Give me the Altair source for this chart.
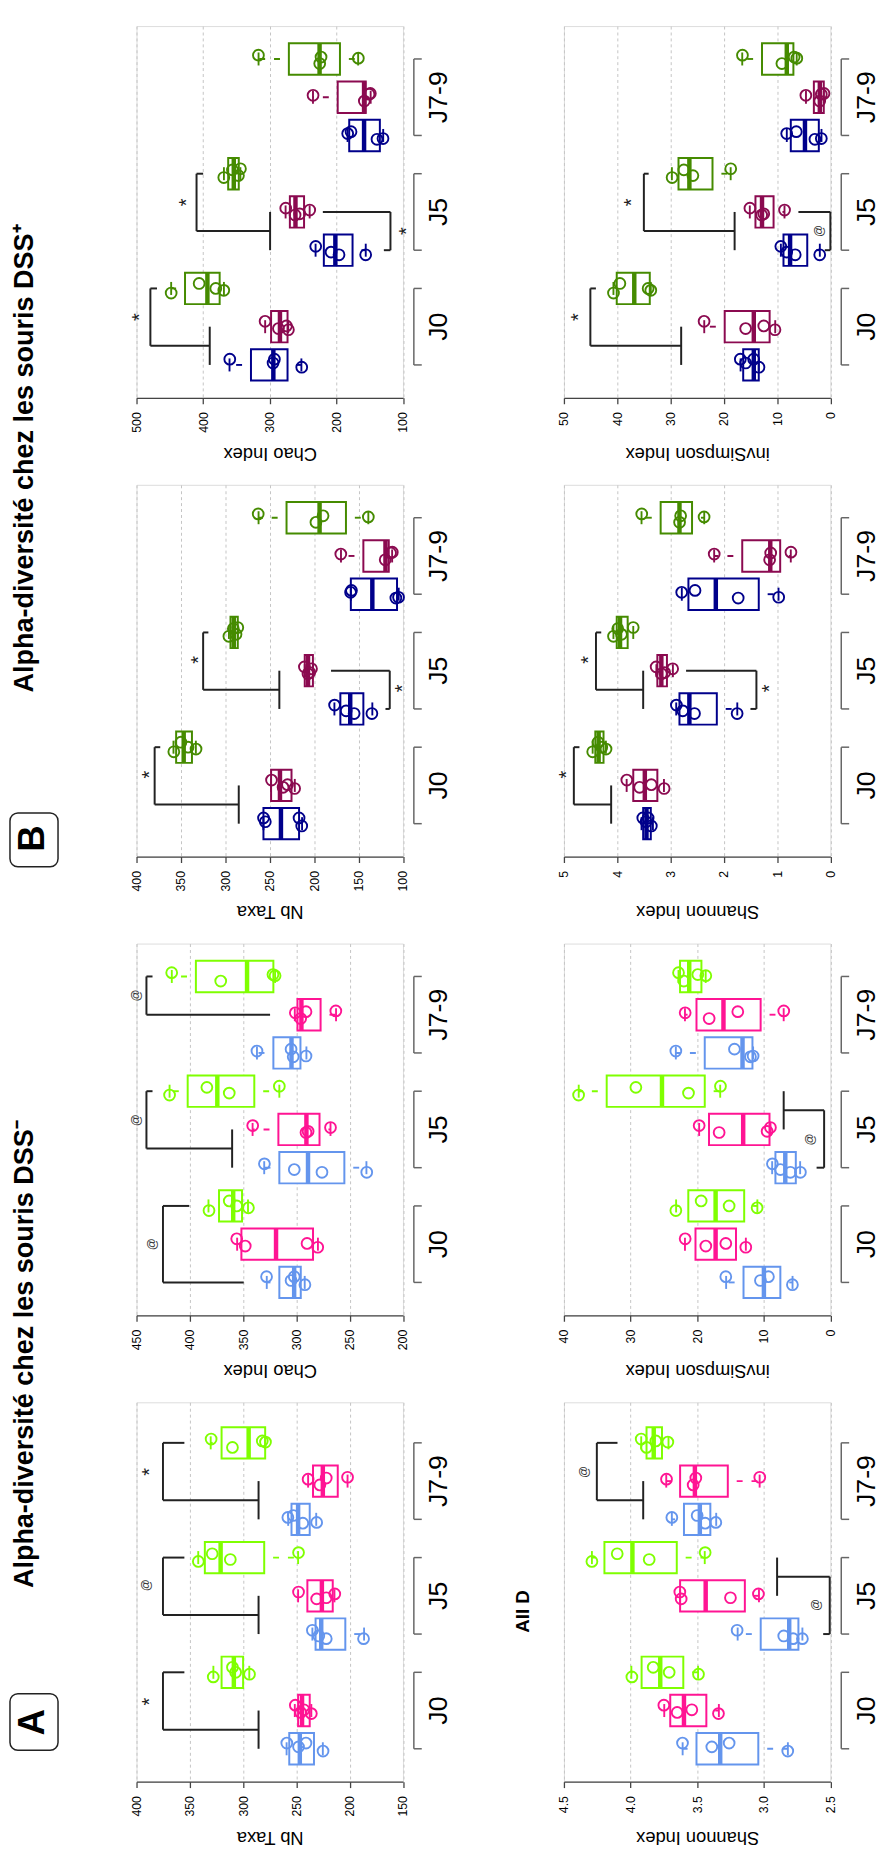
import altair as alt
import pandas as pd

# ---------------- data ----------------
DAYS = ["J0", "J5", "J7-9"]
COLORS_MINUS = ["#6495ED", "#FF1493", "#7FFF00"]
COLORS_PLUS = ["#00008B", "#8B0A50", "#458B00"]
TITLE_MINUS = "Alpha-diversité chez les souris DSS⁻"
TITLE_PLUS = "Alpha-diversité chez les souris DSS⁺"

# each box: (upper whisker, Q3, median, Q1, lower whisker); order J0 x3, J5 x3, J7-9 x3
A_TAXA_BOX = [(259.2, 256.7, 246.8, 233.5, 225.2), (251.5, 248.4, 244.7, 237.5, 236.0), (327.9, 320.2, 308.7, 300.0, 294.2),
              (235.0, 232.0, 226.7, 204.1, 186.5), (248.4, 239.7, 226.1, 215.9, 214.3), (342.1, 335.9, 321.1, 280.2, 248.4),
              (257.7, 254.6, 248.4, 237.5, 231.4), (239.0, 234.4, 225.2, 211.2, 202.0), (330.4, 320.2, 294.8, 279.3, 279.3)]
A_TAXA_PTS = [[259, 248, 241, 225], [251, 246, 243, 236], [328, 310, 307, 294],
              [235, 229, 222, 187], [248, 231, 222, 214], [342, 329, 312, 248],
              [258, 253, 244, 231], [239, 228, 222, 202], [330, 310, 282, 279]]

A_CHAO_BOX = [(327.8, 316.0, 302.1, 295.9, 292.2), (355.6, 351.6, 319.1, 284.4, 279.8), (382.5, 372.6, 359.3, 351.0, 345.4),
              (330.2, 316.0, 289.1, 255.0, 234.3), (341.1, 316.9, 290.6, 278.3, 268.0), (419.0, 402.0, 374.2, 339.5, 316.0),
              (337.0, 321.6, 304.6, 296.2, 290.6), (301.5, 299.0, 295.3, 277.3, 262.8), (416.9, 394.3, 346.3, 321.6, 320.0)]
A_CHAO_PTS = [[328, 305, 302, 292], [356, 348, 290, 280], [382, 363, 356, 345],
              [330, 302, 276, 234], [341, 291, 289, 268], [419, 384, 363, 316],
              [337, 305, 303, 291], [301, 296, 291, 263], [417, 371, 322, 320]]

A_SHAN_BOX = [(3.609, 3.505, 3.327, 3.041, 2.819), (3.747, 3.702, 3.599, 3.431, 3.337), (3.994, 3.917, 3.777, 3.604, 3.493),
              (3.196, 3.023, 2.809, 2.740, 2.710), (3.628, 3.628, 3.436, 3.142, 3.036), (4.290, 4.196, 3.986, 3.653, 3.443),
              (3.690, 3.599, 3.480, 3.401, 3.357), (3.732, 3.628, 3.517, 3.270, 3.031), (3.920, 3.880, 3.826, 3.764, 3.715)]
A_SHAN_PTS = [[3.61, 3.39, 3.26, 2.82], [3.75, 3.65, 3.54, 3.34], [3.99, 3.83, 3.71, 3.49],
              [3.20, 2.85, 2.78, 2.71], [3.63, 3.62, 3.25, 3.04], [4.29, 4.10, 3.86, 3.44],
              [3.69, 3.50, 3.44, 3.36], [3.73, 3.53, 3.51, 3.03], [3.92, 3.88, 3.81, 3.72]]

A_INVS_BOX = [(15.65, 13.04, 9.98, 7.51, 5.68), (21.83, 20.25, 17.23, 14.17, 12.69), (23.16, 21.33, 17.23, 12.94, 10.96),
              (8.74, 8.25, 6.77, 5.19, 4.54), (19.7, 18.22, 13.09, 9.14, 8.99), (37.78, 33.58, 25.28, 18.86, 16.54),
              (23.2, 18.86, 13.19, 11.70, 11.6), (21.83, 20.1, 16.05, 10.47, 7.01), (22.8, 22.57, 21.19, 19.36, 18.72)]
A_INVS_PTS = [[15.7, 10.5, 9.3, 5.7], [21.8, 18.7, 15.7, 12.7], [23.2, 19.4, 15.2, 11.0],
              [8.7, 7.5, 6.0, 4.5], [19.7, 16.7, 9.5, 9.0], [37.8, 29.2, 21.3, 16.5],
              [23.2, 14.4, 12.0, 11.6], [21.8, 18.2, 13.9, 7.0], [22.8, 22.0, 19.9, 18.7]]

B_TAXA_BOX = [(257.1, 257.1, 237.4, 217.0, 213.6), (248.5, 248.5, 238.5, 225.5, 221.8), (358.4, 355.4, 346.9, 337.6, 333.2),
              (177.2, 170.5, 159.4, 144.6, 134.5), (210.6, 210.6, 206.9, 201.4, 201.4), (296.0, 294.2, 290.5, 286.0, 286.0),
              (158.7, 158.7, 134.5, 106.7, 104.8), (169.8, 144.6, 119.7, 116.0, 112.2), (262.6, 231.1, 193.9, 164.2, 139.0)]
B_TAXA_PTS = [[257, 255, 217, 214], [248, 235, 230, 222], [358, 350, 342, 333],
              [177, 164, 155, 135], [211, 207, 205, 203], [296, 291, 288, 286],
              [159, 158, 108, 105], [170, 120, 114, 112], [263, 198, 190, 139]]

B_CHAO_BOX = [(360.4, 328.2, 294.6, 273.3, 252.5), (306.9, 298.0, 284.7, 273.3, 272.3), (448.0, 427.2, 393.6, 375.2, 368.8),
              (231.2, 218.8, 201.5, 175.7, 155.9), (276.2, 269.8, 261.4, 248.5, 240.1), (368.8, 362.4, 354.0, 346.5, 344.1),
              (183.2, 180.7, 158.4, 134.7, 129.7), (235.1, 198.0, 158.4, 155.9, 148.5), (316.8, 271.3, 225.2, 194.6, 167.3)]
B_CHAO_PTS = [[360, 295, 293, 252], [307, 287, 275, 272], [448, 406, 381, 369],
              [231, 208, 196, 156], [276, 262, 255, 240], [369, 356, 347, 344],
              [183, 178, 139, 130], [235, 158, 151, 149], [317, 225, 223, 167]]

B_SHAN_BOX = [(3.544, 3.513, 3.451, 3.370, 3.33), (3.823, 3.699, 3.482, 3.247, 3.123), (4.461, 4.411, 4.349, 4.257, 4.213),
              (2.893, 2.832, 2.646, 2.131, 1.747), (3.265, 3.247, 3.172, 3.067, 2.955), (4.071, 4.009, 3.947, 3.804, 3.699),
              (2.788, 2.664, 2.150, 1.344, 0.973), (2.181, 1.654, 1.128, 0.942, 0.743), (3.544, 3.185, 2.832, 2.596, 2.367)]
B_SHAN_PTS = [[3.52, 3.46, 3.42, 3.36], [3.82, 3.58, 3.36, 3.12], [4.46, 4.36, 4.29, 4.21],
              [2.89, 2.77, 2.55, 1.75], [3.27, 3.17, 3.11, 2.96], [4.07, 3.99, 3.92, 3.70],
              [2.79, 2.54, 1.73, 0.97], [2.18, 1.14, 1.12, 0.74], [3.54, 2.83, 2.81, 2.37]]

B_INVS_BOX = [(16.85, 16.36, 14.37, 13.44, 13.44), (23.67, 19.83, 14.37, 11.4, 10.35), (40.71, 40.09, 36.8, 33.89, 33.7),
              (9.29, 8.8, 7.56, 4.34, 1.98), (15.12, 14.06, 12.83, 10.66, 8.61), (29.74, 28.5, 26.46, 22.12, 18.71),
              (8.18, 7.43, 4.77, 2.17, 1.67), (4.58, 3.1, 1.98, 1.24, 1.24), (16.54, 12.83, 8.18, 6.94, 6.32)]
B_INVS_PTS = [[16.9, 15.9, 14.4, 13.4], [23.7, 15.9, 12.5, 10.4], [40.7, 39.5, 34.2, 33.7],
              [9.3, 8.2, 6.6, 2.0], [15.1, 12.9, 12.5, 8.6], [29.7, 27.5, 25.8, 18.7],
              [8.2, 6.4, 2.9, 1.7], [4.6, 2.0, 1.7, 1.2], [16.5, 9.1, 6.8, 6.3]]

# jitter of the points along the group axis (box units)
JIT = [[0.15, 0.05, 0.15, -0.06], [0.14, -0.05, 0.02, -0.08], [-0.12, 0.13, 0.0, -0.05],
       [0.10, -0.05, -0.12, -0.12], [0.10, -0.08, -0.05, 0.05], [-0.10, 0.10, -0.05, 0.13],
       [0.05, 0.10, -0.10, -0.08], [0.05, -0.10, 0.08, 0.10], [0.10, -0.12, 0.05, 0.02]]

# significance brackets: (start, far, end, start pos, end pos, cross from, cross to, label, label value, label pos)
A_TAXA_BR = [(285.5, 375.2, 355.1, 1.5, 3, 1, 2, "*", 390.7, 2.23),
             (285.5, 375.2, 355.1, 4.5, 6, 4, 5, "@", 390.7, 5.28),
             (285.5, 375.2, 355.1, 7.5, 9, 7, 8, "*", 390.7, 8.24)]
A_CHAO_BR = [(349.4, 425.2, 400.5, 1, 3, None, None, "@", 435.1, 2.0),
             (360.3, 440.7, 435.0, 4.5, 6, 4, 5, "@", 450.0, 5.24),
             (324.7, 440.7, 435.0, 8, 9, None, None, "@", 450.0, 8.5)]
A_SHAN_BR = [(2.90, 2.505, 2.554, 5.5, 4, 5, 6, "@", 2.604, 4.76),
             (3.905, 4.253, 4.098, 7.5, 9, 7, 8, "@", 4.349, 8.24)]
A_INVS_BR = [(7.01, 0.94, 2.07, 5.5, 4, 5, 6, "@", 3.06, 4.74)]
B_TAXA_BR = [(284.9, 379.6, 373.3, 1.5, 3, 1, 2, "*", 389.6, 2.28),
             (239.2, 325.0, 319.1, 4.5, 6, 4, 5, "*", 333.9, 5.28),
             (181.0, 114.9, 119.7, 5, 4, None, None, "*", 104.8, 4.54)]
B_CHAO_BR = [(390.1, 479.2, 469.3, 1.5, 3, 1, 2, "*", 500.0, 2.25),
             (299.5, 409.9, 400.0, 4.5, 6, 4, 5, "*", 429.7, 5.25),
             (220.3, 118.8, 128.7, 5, 4, None, None, "*", 100.0, 4.5)]
B_SHAN_BR = [(4.114, 4.814, 4.709, 1.5, 3, 1, 2, "*", 5.01, 2.28),
             (3.513, 4.399, 4.3, 4.5, 6, 4, 5, "*", 4.597, 5.28),
             (2.708, 1.388, 1.5, 5, 4, None, None, "*", 1.202, 4.54)]
B_INVS_BR = [(28.0, 45.04, 44.0, 1.5, 3, 1, 2, "*", 47.96, 2.25),
             (17.97, 35.0, 34.1, 4.5, 6, 4, 5, "*", 38.04, 5.25),
             (6.0, 0.0, 1.05, 5, 4, None, None, "@", 2.11, 4.5)]

TICKS_A_TAXA = [150, 200, 250, 300, 350, 400]
TICKS_A_CHAO = [200, 250, 300, 350, 400, 450]
TICKS_A_SHAN = [2.5, 3.0, 3.5, 4.0, 4.5]
TICKS_A_INVS = [0, 10, 20, 30, 40]
TICKS_B_TAXA = [100, 150, 200, 250, 300, 350, 400]
TICKS_B_CHAO = [100, 200, 300, 400, 500]
TICKS_B_SHAN = [0, 1, 2, 3, 4, 5]
TICKS_B_INVS = [0, 10, 20, 30, 40, 50]

# ---------------- layout / style ----------------
FONT = "Liberation Sans"
W = 269.5
H = 376
H_LAST = 383.7
YDOM = [0.14, 9.86]
YDOM_LAST = [0.14, 10.06]
BOX_HALF = 0.41
STAPLE_HALF = 0.17
LW = 1.9


def panel(boxes, pts, colors, ticks, fmt, title, brackets, height, ydom, extras=()):
    brow, prow = [], []
    for i, (hi, q3, med, q1, lo) in enumerate(boxes):
        p = i + 1
        brow.append(dict(pos=p, hi=hi, q3=q3, med=med, q1=q1, lo=lo, col=colors[i % 3],
                         y1=p - BOX_HALF, y2=p + BOX_HALF, s1=p - STAPLE_HALF, s2=p + STAPLE_HALF))
        for j, v in enumerate(pts[i]):
            prow.append(dict(val=v, pos=p + JIT[i][j], col=colors[i % 3]))
    bdf, pdf = pd.DataFrame(brow), pd.DataFrame(prow)

    segs, labs = [], []
    for (a, top, b, pa, pb, c1, c2, lab, sv, sp) in brackets:
        segs += [dict(x=a, x2=top, y=pa, y2=pa), dict(x=top, x2=top, y=pa, y2=pb),
                 dict(x=top, x2=b, y=pb, y2=pb)]
        if c1 is not None:
            segs.append(dict(x=a, x2=a, y=c1, y2=c2))
        labs.append(dict(lab=lab, sv=sv, sp=sp))
    sdf, ldf = pd.DataFrame(segs), pd.DataFrame(labs)
    ddf = pd.DataFrame([dict(d1=g * 3 + 1, d2=g * 3 + 3, dm=g * 3 + 2, day=DAYS[g]) for g in range(3)])

    xs = alt.Scale(domain=[min(ticks), max(ticks)], reverse=True, nice=False, zero=False)
    ys = alt.Scale(domain=ydom, nice=False, zero=False)
    ax = alt.Axis(values=ticks, format=fmt, labelAngle=270, labelFontSize=12.5, labelFont=FONT,
                  labelColor="black", labelPadding=8, labelFlush=False, labelOverlap=False,
                  tickSize=6, tickColor="#444", tickWidth=1.3, domainColor="#444", domainWidth=1.3,
                  grid=True, gridDash=[3, 3], gridColor="#c4c4c4", gridWidth=1,
                  title=title, titleAngle=180, titleFontSize=18.5, titleFontWeight="normal",
                  titleFont=FONT, titleColor="black", titleX=W / 2, titleY=56,
                  titleBaseline="middle", titleAlign="center")

    def X(f):
        return alt.X(f, scale=xs, axis=ax)

    def Y(f):
        return alt.Y(f, scale=ys, axis=None)

    stroke = alt.Stroke("col:N", scale=None)
    base = alt.Chart(bdf)
    layers = [
        base.mark_rule(strokeDash=[6, 9], strokeDashOffset=6, strokeWidth=LW).encode(
            x=X("q3:Q"), x2="hi:Q", y=Y("pos:Q"), stroke=stroke),
        base.mark_rule(strokeDash=[6, 9], strokeDashOffset=6, strokeWidth=LW).encode(
            x=X("q1:Q"), x2="lo:Q", y=Y("pos:Q"), stroke=stroke),
        base.mark_rect(fill="white", strokeWidth=2).encode(
            x=X("q3:Q"), x2="q1:Q", y=Y("y1:Q"), y2="y2:Q", stroke=stroke),
        base.mark_rule(strokeWidth=4.5).encode(x=X("med:Q"), y=Y("y1:Q"), y2="y2:Q", stroke=stroke),
        base.mark_rule(strokeWidth=LW).encode(x=X("hi:Q"), y=Y("s1:Q"), y2="s2:Q", stroke=stroke),
        base.mark_rule(strokeWidth=LW).encode(x=X("lo:Q"), y=Y("s1:Q"), y2="s2:Q", stroke=stroke),
        alt.Chart(pdf).mark_point(shape="circle", filled=False, size=120, strokeWidth=LW, opacity=1).encode(
            x=X("val:Q"), y=Y("pos:Q"), stroke=stroke),
        alt.Chart(sdf).mark_rule(color="#222", strokeWidth=2).encode(
            x=X("x:Q"), x2="x2:Q", y=Y("y:Q"), y2="y2:Q"),
        alt.Chart(ldf).transform_filter(alt.datum.lab == "*").mark_text(
            angle=270, fontSize=20, dy=4, font=FONT, color="#222", baseline="middle", align="center").encode(
            x=X("sv:Q"), y=Y("sp:Q"), text="lab:N"),
        alt.Chart(ldf).transform_filter(alt.datum.lab == "@").mark_text(
            angle=270, fontSize=12, font=FONT, color="#333", baseline="middle", align="center").encode(
            x=X("sv:Q"), y=Y("sp:Q"), text="lab:N"),
        alt.Chart(ddf).mark_rule(color="#666", strokeWidth=1.5).encode(
            x=alt.value(W + 11), y=Y("d1:Q"), y2="d2:Q"),
        alt.Chart(ddf).mark_rule(color="#666", strokeWidth=1.5).encode(
            x=alt.value(W + 11), x2=alt.value(W + 19), y=Y("d1:Q")),
        alt.Chart(ddf).mark_rule(color="#666", strokeWidth=1.5).encode(
            x=alt.value(W + 11), x2=alt.value(W + 19), y=Y("d2:Q")),
        alt.Chart(ddf).mark_text(angle=270, fontSize=27, font=FONT, color="black",
                                 baseline="alphabetic", align="center").encode(
            x=alt.value(W + 45), y=Y("dm:Q"), text="day:N"),
    ]
    for ex in extras:
        layers.extend(ex(Y))
    return alt.layer(*layers).properties(width=W, height=height)


def section_label(letter, title, box_lo, box_hi, letter_p, title_p):
    def make(Y):
        df = pd.DataFrame([dict(l=letter, t=title, b1=box_lo, b2=box_hi, pl=letter_p, pt=title_p)])
        box = alt.Chart(df).mark_rect(fill="white", stroke="#222", strokeWidth=1.5, cornerRadius=8).encode(
            x=alt.value(-128), x2=alt.value(-79.4), y=Y("b1:Q"), y2="b2:Q")
        let = alt.Chart(df).mark_text(angle=270, fontSize=37, fontWeight="bold", font=FONT, color="black",
                                      baseline="middle", align="center").encode(
            x=alt.value(-104.5), y=Y("pl:Q"), text="l:N")
        tit = alt.Chart(df).mark_text(angle=270, fontSize=27.3, fontWeight="bold", font=FONT, color="black",
                                      baseline="middle", align="center").encode(
            x=alt.value(-112.7), y=Y("pt:Q"), text="t:N")
        return [box, let, tit]
    return make


def stray_text(txt, pos):
    def make(Y):
        df = pd.DataFrame([dict(t=txt, sp2=pos)])
        return [alt.Chart(df).mark_text(angle=270, fontSize=19, fontWeight="bold", font=FONT, color="black",
                                        baseline="middle", align="center").encode(
            x=alt.value(-41.5), y=Y("sp2:Q"), text="t:N")]
    return make


b_chao = panel(B_CHAO_BOX, B_CHAO_PTS, COLORS_PLUS, TICKS_B_CHAO, "d", "Chao Index", B_CHAO_BR, H, YDOM)
b_invs = panel(B_INVS_BOX, B_INVS_PTS, COLORS_PLUS, TICKS_B_INVS, "d", "invSimpson Index", B_INVS_BR, H, YDOM)
b_taxa = panel(B_TAXA_BOX, B_TAXA_PTS, COLORS_PLUS, TICKS_B_TAXA, "d", "Nb Taxa", B_TAXA_BR, H, YDOM,
               extras=[section_label("B", TITLE_PLUS, -0.126, 1.28, 0.61, 10.55)])
b_shan = panel(B_SHAN_BOX, B_SHAN_PTS, COLORS_PLUS, TICKS_B_SHAN, "d", "Shannon Index", B_SHAN_BR, H, YDOM)
a_chao = panel(A_CHAO_BOX, A_CHAO_PTS, COLORS_MINUS, TICKS_A_CHAO, "d", "Chao Index", A_CHAO_BR, H, YDOM)
a_invs = panel(A_INVS_BOX, A_INVS_PTS, COLORS_MINUS, TICKS_A_INVS, "d", "invSimpson Index", A_INVS_BR, H, YDOM)
a_taxa = panel(A_TAXA_BOX, A_TAXA_PTS, COLORS_MINUS, TICKS_A_TAXA, "d", "Nb Taxa", A_TAXA_BR, H_LAST, YDOM_LAST,
               extras=[section_label("A", TITLE_MINUS, 0.96, 2.44, 1.69, 11.32)])
a_shan = panel(A_SHAN_BOX, A_SHAN_PTS, COLORS_MINUS, TICKS_A_SHAN, ".1f", "Shannon Index", A_SHAN_BR, H_LAST,
               YDOM_LAST, extras=[stray_text("All D", 4.59)])

chart = alt.concat(b_chao, b_invs, b_taxa, b_shan, a_chao, a_invs, a_taxa, a_shan,
                   columns=2, spacing={"row": 88, "column": 162.3}, bounds="flush").properties(
    padding={"left": 0, "top": 6.7, "right": 0, "bottom": 0},
    background="white",
).configure_view(strokeWidth=0).configure(font=FONT)

chart.save("out.html", embed_options={"renderer": "svg", "actions": False})
